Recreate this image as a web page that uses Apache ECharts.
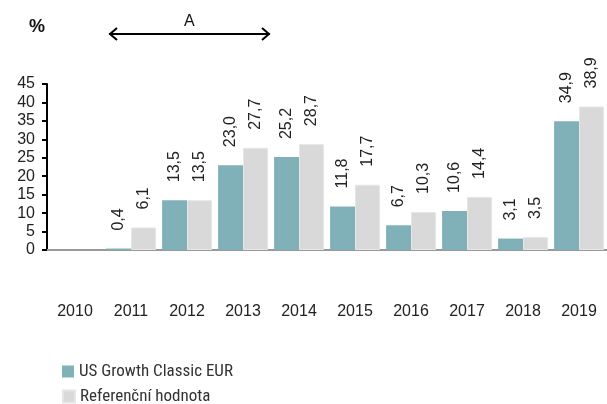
<!DOCTYPE html>
<html>
<head>
<meta charset="utf-8">
<script src="https://cdn.jsdelivr.net/npm/echarts@6/dist/echarts.min.js"></script>
<style>
  html, body { margin: 0; padding: 0; background: #fff; }
  #chart { width: 607px; height: 404px; }
</style>
</head>
<body>
<div id="chart"></div>
<script>
const years = ["2010", "2011", "2012", "2013", "2014", "2015", "2016", "2017", "2018", "2019"];
const fundValues = [null, 0.4, 13.5, 23.0, 25.2, 11.8, 6.7, 10.6, 3.1, 34.9];
const benchValues = [null, 6.1, 13.5, 27.7, 28.7, 17.7, 10.3, 14.4, 3.5, 38.9];
const yTicks = [0, 45, 5];

(function fundChart() {
  var dom = document.getElementById("chart");
  var myChart = echarts.init(dom, null, { renderer: "canvas" });

  var font = "'Liberation Sans', Arial, sans-serif";
  var fmt = function (p) {
    return p.value == null ? "" : p.value.toFixed(1).replace(".", ",");
  };

  var labelStyle = {
    show: true,
    position: "top",
    rotate: 90,
    align: "left",
    verticalAlign: "middle",
    distance: 18,
    fontFamily: font,
    fontSize: 16,
    color: "#222",
    formatter: fmt,
  };

  var legendText = {
    fontFamily: "'Liberation Sans Narrow', 'Roboto Condensed', sans-serif",
    fontSize: 17,
    color: "#333",
  };

  var option = {
    animation: false,
    textStyle: { fontFamily: font },
    grid: { left: 47, right: 0, top: 84, bottom: 154, containLabel: false },
    legend: [
      {
        left: 57,
        top: 358,
        itemWidth: 12,
        itemHeight: 12,
        icon: "rect",
        textStyle: legendText,
        data: ["US Growth Classic EUR"],
      },
      {
        left: 57,
        top: 383,
        itemWidth: 12,
        itemHeight: 12,
        icon: "rect",
        textStyle: legendText,
        data: ["Referenční hodnota"],
      },
    ],
    xAxis: {
      type: "category",
      data: years,
      axisLine: { lineStyle: { color: "#999", width: 2 } },
      axisTick: { show: false },
      axisLabel: { margin: 54, fontSize: 16, color: "#222", fontFamily: font },
    },
    yAxis: {
      type: "value",
      min: yTicks[0],
      max: yTicks[1],
      interval: yTicks[2],
      splitLine: { show: false },
      axisLine: { show: true, lineStyle: { color: "#000", width: 2 } },
      axisTick: { show: true, length: 5, lineStyle: { color: "#000", width: 2 } },
      axisLabel: { margin: 12, fontSize: 16, color: "#222", fontFamily: font },
    },
    graphic: [
      {
        type: "text",
        left: 29,
        top: 18,
        style: { text: "%", font: "bold 18px " + font, fill: "#111" },
      },
      {
        type: "text",
        left: 184,
        top: 14,
        style: { text: "A", font: "16px " + font, fill: "#111" },
      },
      {
        type: "polyline",
        shape: { points: [[109, 34], [270, 34]] },
        style: { stroke: "#000", lineWidth: 2 },
      },
      {
        type: "polyline",
        shape: { points: [[117, 28], [110, 34], [117, 40]] },
        style: { stroke: "#000", lineWidth: 2, fill: null },
      },
      {
        type: "polyline",
        shape: { points: [[262, 28], [269, 34], [262, 40]] },
        style: { stroke: "#000", lineWidth: 2, fill: null },
      },
    ],
    series: [
      {
        name: "US Growth Classic EUR",
        type: "bar",
        data: fundValues,
        barGap: "0%",
        barCategoryGap: "11%",
        itemStyle: { color: "#80b1b8" },
        label: labelStyle,
      },
      {
        name: "Referenční hodnota",
        type: "bar",
        data: benchValues,
        itemStyle: { color: "#d9d9d9", borderColor: "#e6e6e6", borderWidth: 1 },
        label: labelStyle,
      },
    ],
  };

  myChart.setOption(option);
})();
</script>
</body>
</html>
